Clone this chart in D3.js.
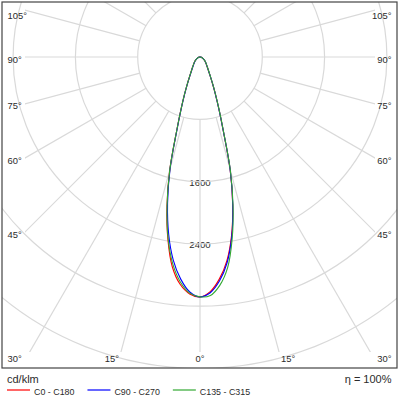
<!DOCTYPE html>
<html><head><meta charset="utf-8">
<script src="https://cdn.jsdelivr.net/npm/d3@7"></script>
<style>body{margin:0;background:#fff}svg{display:block}</style>
</head><body>
<svg id="chart" width="400" height="400"></svg>
<script>
// ---- data (cd/klm) ----
const gammas = [0,2.5,5,7.5,10,12.5,15,17.5,20,22.5,25,27.5,30,35,40,45,50,55,60,65,70,75,80,85,90];
const c180 = [3080,3045,2930,2720,2375,1960,1500,1000,710,520,390,300,240,172,132,106,86,69,53,40,28,18,10,4,0];
const c0   = [3080,3015,2860,2640,2330,1940,1493,995,706,516,386,296,236,168,128,104,84,67,51,40,28,18,10,4,0];
const c270 = [3080,3020,2860,2630,2315,1925,1483,990,703,514,385,295,235,168,128,104,84,67,51,40,28,18,10,4,0];
const c90  = [3080,3030,2885,2665,2345,1945,1497,997,708,518,388,298,238,170,130,105,85,68,52,40,28,18,10,4,0];
const c315 = [3080,3035,2900,2680,2360,1955,1498,1000,711,521,391,301,241,173,133,107,87,69,53,40,28,18,10,4,0];
const c135 = [3080,3065,2940,2725,2375,1962,1505,1002,713,522,392,301,241,172,132,106,86,69,53,40,28,18,10,4,0];

const seriesNames  = ["C0 - C180","C90 - C270","C135 - C315"];
const seriesColors = ["#ff0000","#0000ff","#33a833"];
const seriesLeft   = [c180, c270, c315];
const seriesRight  = [c0, c90, c135];

const ringValues  = [800,1600,2400,3200,4000,4800];
const ringLabels  = [1600,2400];
const spokeAngles = [0,15,30,45,60,75,90,105,120,135,150,165,180];
const angleLabels = [0,15,30,45,60,75,90,105];
const unitLabel = "cd/klm";
const etaLabel = "η = 100%";

// ---- layout ----
const svg = d3.select("#chart");
const cx = 200, cy = 57;
const frame = {x:2, y:2, w:395, h:366};
const inner = {x0:25, x1:375, y1:352};
const r = d3.scaleLinear().domain([0,800]).range([0,62.3]);
const ang = d3.scaleLinear().domain([0,180]).range([Math.PI,0]); // signed gamma -> radial angle
const rad = d => d*Math.PI/180;
const grid = "#d9d9d9";
const font = "'Liberation Sans', Arial, sans-serif";
const txt = "#2b2b2b";

const defs = svg.append("defs");
defs.append("clipPath").attr("id","frameClip").append("rect")
  .attr("x",frame.x).attr("y",frame.y).attr("width",frame.w).attr("height",frame.h);
defs.append("clipPath").attr("id","spokeClip").append("rect")
  .attr("x",inner.x0).attr("y",frame.y).attr("width",inner.x1-inner.x0).attr("height",inner.y1-frame.y);

// rings
const g = svg.append("g").attr("transform",`translate(${cx},${cy})`);
const ringG = svg.append("g").attr("clip-path","url(#frameClip)")
  .append("g").attr("transform",`translate(${cx},${cy})`);
ringG.selectAll("circle").data(ringValues).join("circle")
  .attr("r",d=>r(d)).attr("fill","none").attr("stroke",grid).attr("stroke-width",1.2);

// spokes
const spokeData = [];
spokeAngles.forEach(a => { spokeData.push(a); if (a>0 && a<180) spokeData.push(-a); });
const spokeG = svg.append("g").attr("clip-path","url(#spokeClip)")
  .append("g").attr("transform",`translate(${cx},${cy})`);
spokeG.selectAll("line").data(spokeData).join("line")
  .attr("x1",d=>r(800)*Math.sin(ang(d))).attr("y1",d=>-r(800)*Math.cos(ang(d)))
  .attr("x2",d=>r(9000)*Math.sin(ang(d))).attr("y2",d=>-r(9000)*Math.cos(ang(d)))
  .attr("stroke",grid).attr("stroke-width",1.2);

// ring labels
g.selectAll("text.ring").data(ringLabels).join("text").attr("class","ring")
  .attr("x",0).attr("y",d=>r(d)+1).attr("text-anchor","middle").attr("dominant-baseline","central")
  .attr("font-family",font).attr("font-size",9.6).attr("fill",txt)
  .attr("stroke","#fff").attr("stroke-width",4).attr("paint-order","stroke")
  .text(d=>d);

// angle labels
const bottomY = 358;
const labG = svg.append("g").attr("font-family",font).attr("font-size",9.4).attr("fill",txt);
angleLabels.forEach(a => {
  const sides = a===0 ? [0] : [-1,1];
  sides.forEach(s => {
    let x, y, anchor;
    if (a < 30) {
      const xe = cx + s*(inner.y1-cy)*Math.tan(rad(a));
      y = bottomY;
      if (s===0){ x = xe; anchor="middle"; }
      else if (s<0){ x = xe-2; anchor="end"; }
      else { x = xe+2; anchor="start"; }
    } else {
      const dx = cx-inner.x0;
      y = cy + dx*Math.cos(rad(a))/Math.sin(rad(a)) + 2;
      y = Math.max(15, Math.min(bottomY, y));
      if (s<0){ x = 7.5; anchor="start"; } else { x = 391.5; anchor="end"; }
    }
    labG.append("text").attr("x",x).attr("y",y).attr("text-anchor",anchor)
      .attr("dominant-baseline","central").text(a+"°");
  });
});

// curves
const line = d3.lineRadial().angle(d=>ang(d.s)).radius(d=>r(d.v)).curve(d3.curveCatmullRom.alpha(0.5));
const curveG = svg.append("g").attr("clip-path","url(#frameClip)")
  .append("g").attr("transform",`translate(${cx},${cy})`);
seriesNames.forEach((name,i) => {
  const pts = [];
  for (let k=gammas.length-1;k>=0;k--) pts.push({s:-gammas[k], v:seriesLeft[i][k]});
  for (let k=1;k<gammas.length;k++) pts.push({s:gammas[k], v:seriesRight[i][k]});
  curveG.append("path").attr("d",line(pts)).attr("fill","none")
    .attr("stroke",seriesColors[i]).attr("stroke-width",1.1);
});

// frame
svg.append("rect").attr("x",frame.x).attr("y",frame.y).attr("width",frame.w).attr("height",frame.h)
  .attr("fill","none").attr("stroke","#444").attr("stroke-width",1.2);

// bottom texts
svg.append("text").attr("x",7).attr("y",383).attr("font-family",font).attr("font-size",11)
  .attr("fill",txt).text(unitLabel);
svg.append("text").attr("x",391.5).attr("y",383).attr("text-anchor","end").attr("font-family",font)
  .attr("font-size",11).attr("fill",txt).text(etaLabel);

// legend
let lx = 7;
seriesNames.forEach((name,i) => {
  svg.append("line").attr("x1",lx).attr("x2",lx+23).attr("y1",390).attr("y2",390)
    .attr("stroke",seriesColors[i]).attr("stroke-width",1.2);
  const t = svg.append("text").attr("x",lx+27).attr("y",394.5).attr("font-family",font)
    .attr("font-size",8.9).attr("fill",txt).text(name);
  lx = lx + 27 + t.node().getComputedTextLength() + 13;
});
</script>
</body></html>
